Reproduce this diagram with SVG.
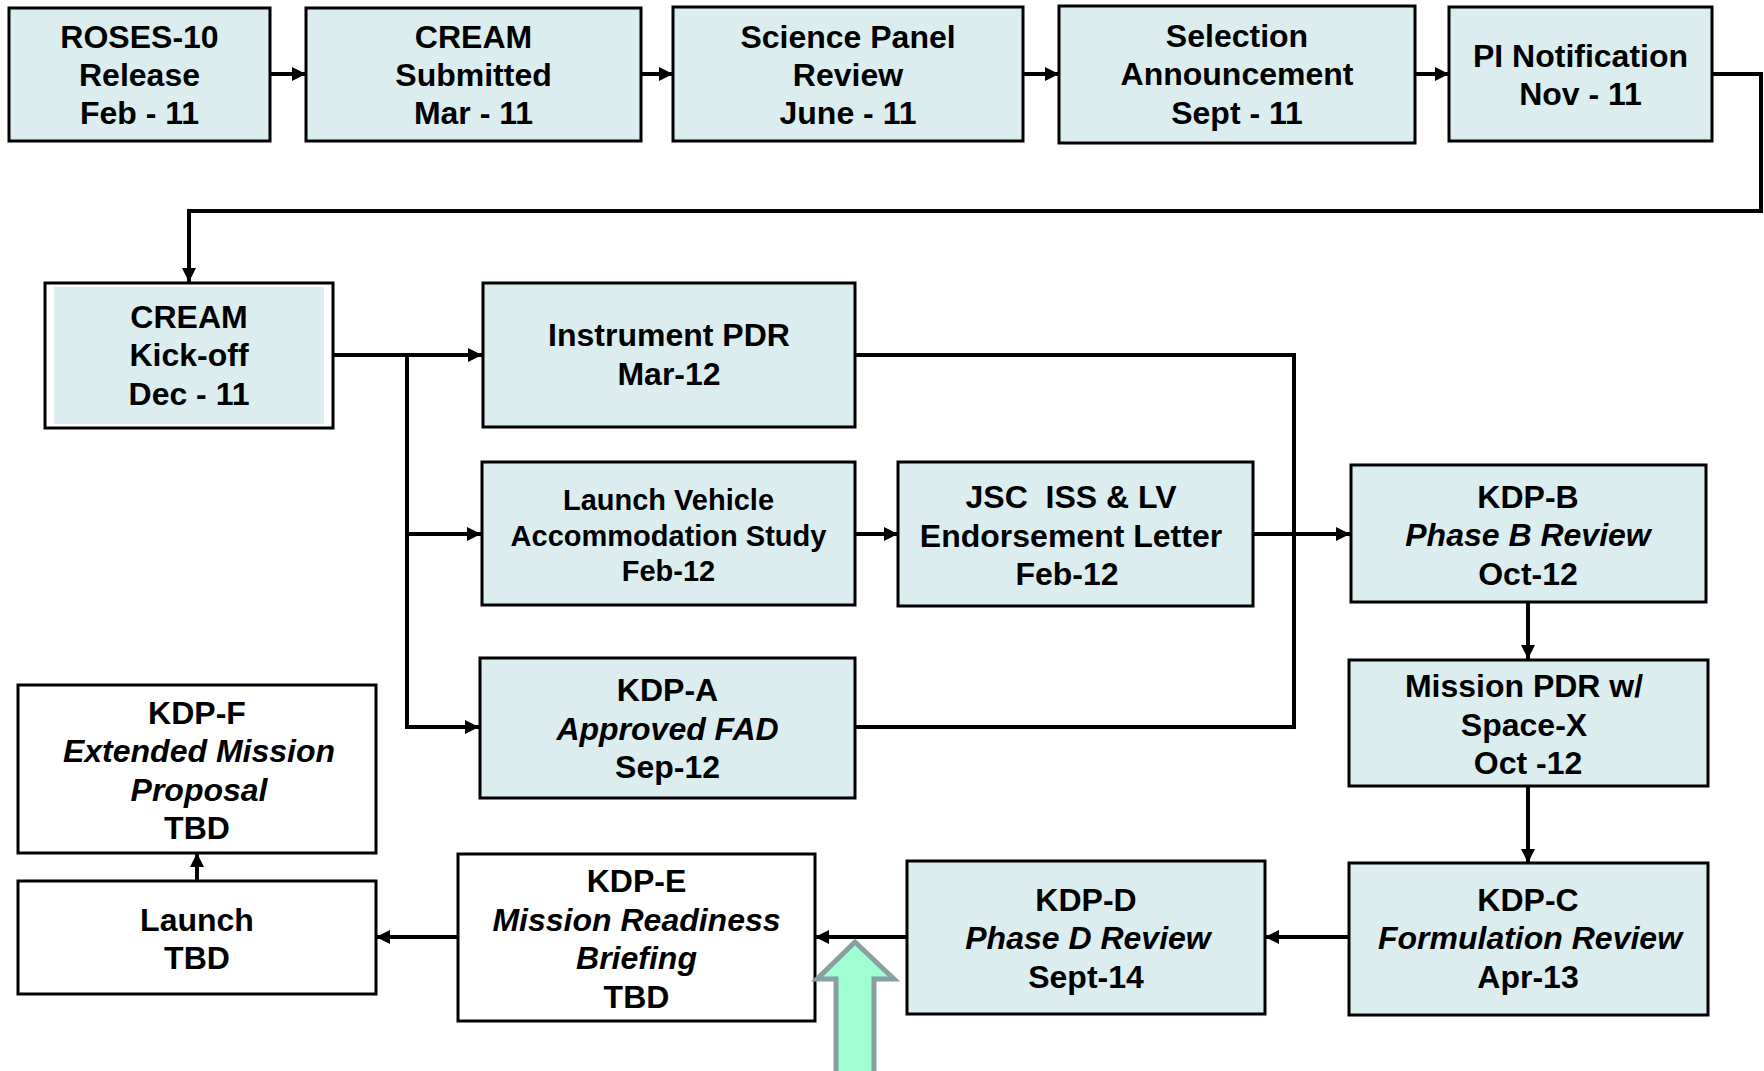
<svg xmlns="http://www.w3.org/2000/svg" width="1764" height="1071" viewBox="0 0 1764 1071">
<style>
.box{fill:#DBEDEF;stroke:#000;stroke-width:3}
.wbox{fill:#fff;stroke:#000;stroke-width:3}
text{font-family:"Liberation Sans",Arial,sans-serif;font-weight:bold;font-size:32px;fill:#000;text-anchor:middle}
.it{font-style:italic}
.c{fill:none;stroke:#000;stroke-width:4}
</style>
<defs>
<marker id="ah" markerUnits="userSpaceOnUse" markerWidth="16" markerHeight="16" refX="14" refY="7" orient="auto">
<path d="M0,0 L14,7 L0,14 z" fill="#000"/>
</marker>
</defs>
<rect width="1764" height="1071" fill="#fff"/>
<g id="connectors">
<path class="c" d="M270,74 H306" marker-end="url(#ah)"/>
<path class="c" d="M641,74 H673" marker-end="url(#ah)"/>
<path class="c" d="M1023,74 H1059" marker-end="url(#ah)"/>
<path class="c" d="M1415,74 H1449" marker-end="url(#ah)"/>
<path class="c" d="M1712,74 H1761 V211 H189 V282" marker-end="url(#ah)"/>
<path class="c" d="M333,355 H482" marker-end="url(#ah)"/>
<path class="c" d="M407,355 V729"/>
<path class="c" d="M407,534 H481" marker-end="url(#ah)"/>
<path class="c" d="M407,727 H479" marker-end="url(#ah)"/>
<path class="c" d="M855,534 H898" marker-end="url(#ah)"/>
<path class="c" d="M855,355 H1294 V729"/>
<path class="c" d="M855,727 H1296"/>
<path class="c" d="M1253,534 H1350" marker-end="url(#ah)"/>
<path class="c" d="M1528,602 V659" marker-end="url(#ah)"/>
<path class="c" d="M1528,786 V863" marker-end="url(#ah)"/>
<path class="c" d="M1348,937 H1265" marker-end="url(#ah)"/>
<path class="c" d="M907,937 H815" marker-end="url(#ah)"/>
<path class="c" d="M457,937 H376" marker-end="url(#ah)"/>
<path class="c" d="M197,880 V853" marker-end="url(#ah)"/>
</g>
<g id="roses10">
<rect class="box" x="9" y="8" width="261" height="133"/>
<text x="139.5" y="48">ROSES-10</text>
<text x="139.5" y="86">Release</text>
<text x="139.5" y="124">Feb - 11</text>
</g>
<g id="cream-submitted">
<rect class="box" x="306" y="8" width="335" height="133"/>
<text x="473.5" y="48">CREAM</text>
<text x="473.5" y="86">Submitted</text>
<text x="473.5" y="124">Mar - 11</text>
</g>
<g id="science-panel">
<rect class="box" x="673" y="7" width="350" height="134"/>
<text x="848" y="48">Science Panel</text>
<text x="848" y="86">Review</text>
<text x="848" y="124">June - 11</text>
</g>
<g id="selection">
<rect class="box" x="1059" y="6" width="356" height="137"/>
<text x="1237" y="47">Selection</text>
<text x="1237" y="85">Announcement</text>
<text x="1237" y="124">Sept - 11</text>
</g>
<g id="pi-notification">
<rect class="box" x="1449" y="7" width="263" height="134"/>
<text x="1580.5" y="67">PI Notification</text>
<text x="1580.5" y="105">Nov - 11</text>
</g>
<g id="kickoff">
<rect x="45" y="283" width="288" height="145" fill="#fff" stroke="#000" stroke-width="3"/>
<rect x="54" y="287" width="270" height="137" fill="#DBEDEF"/>
<text x="189" y="328">CREAM</text>
<text x="189" y="366">Kick-off</text>
<text x="189" y="405">Dec - 11</text>
</g>
<g id="instrument-pdr">
<rect class="box" x="483" y="283" width="372" height="144"/>
<text x="669" y="346">Instrument PDR</text>
<text x="669" y="385">Mar-12</text>
</g>
<g id="lv-study">
<rect class="box" x="482" y="462" width="373" height="143"/>
<text x="668.5" y="510" style="font-size:29px">Launch Vehicle</text>
<text x="668.5" y="546" style="font-size:29px">Accommodation Study</text>
<text x="668.5" y="581" style="font-size:29px">Feb-12</text>
</g>
<g id="jsc-letter">
<rect class="box" x="898" y="462" width="355" height="144"/>
<text x="1071" y="508" xml:space="preserve" style="white-space:pre">JSC  ISS &amp; LV</text>
<text x="1071" y="547">Endorsement Letter</text>
<text x="1067" y="585">Feb-12</text>
</g>
<g id="kdp-b">
<rect class="box" x="1351" y="465" width="355" height="137"/>
<text x="1528" y="508">KDP-B</text>
<text x="1528" y="546" class="it">Phase B Review</text>
<text x="1528" y="585">Oct-12</text>
</g>
<g id="kdp-a">
<rect class="box" x="480" y="658" width="375" height="140"/>
<text x="667.5" y="701">KDP-A</text>
<text x="667.5" y="740" class="it">Approved FAD</text>
<text x="667.5" y="778">Sep-12</text>
</g>
<g id="mission-pdr">
<rect class="box" x="1349" y="660" width="359" height="126"/>
<text x="1524" y="697">Mission PDR w/</text>
<text x="1524" y="736">Space-X</text>
<text x="1528" y="774">Oct -12</text>
</g>
<g id="kdp-f">
<rect class="wbox" x="18" y="685" width="358" height="168"/>
<text x="197" y="724">KDP-F</text>
<text x="199" y="762" class="it">Extended Mission</text>
<text x="199" y="801" class="it">Proposal</text>
<text x="197" y="839">TBD</text>
</g>
<g id="launch">
<rect class="wbox" x="18" y="881" width="358" height="113"/>
<text x="197" y="931">Launch</text>
<text x="197" y="969">TBD</text>
</g>
<g id="kdp-e">
<rect class="wbox" x="458" y="854" width="357" height="167"/>
<text x="636.5" y="892">KDP-E</text>
<text x="636.5" y="931" class="it">Mission Readiness</text>
<text x="636.5" y="969" class="it">Briefing</text>
<text x="636.5" y="1008">TBD</text>
</g>
<g id="kdp-d">
<rect class="box" x="907" y="861" width="358" height="153"/>
<text x="1086" y="911">KDP-D</text>
<text x="1088" y="949" class="it">Phase D Review</text>
<text x="1086" y="988">Sept-14</text>
</g>
<g id="kdp-c">
<rect class="box" x="1349" y="863" width="359" height="152"/>
<text x="1528" y="911">KDP-C</text>
<text x="1530" y="949" class="it">Formulation Review</text>
<text x="1528" y="988">Apr-13</text>
</g>
<g id="green-arrow">
<path d="M855,942 L894,979 H874 V1075 H836 V979 H817 Z" fill="#9FFFD3" stroke="#8A9FA0" stroke-width="5" stroke-linejoin="miter"/>
</g>
</svg>
